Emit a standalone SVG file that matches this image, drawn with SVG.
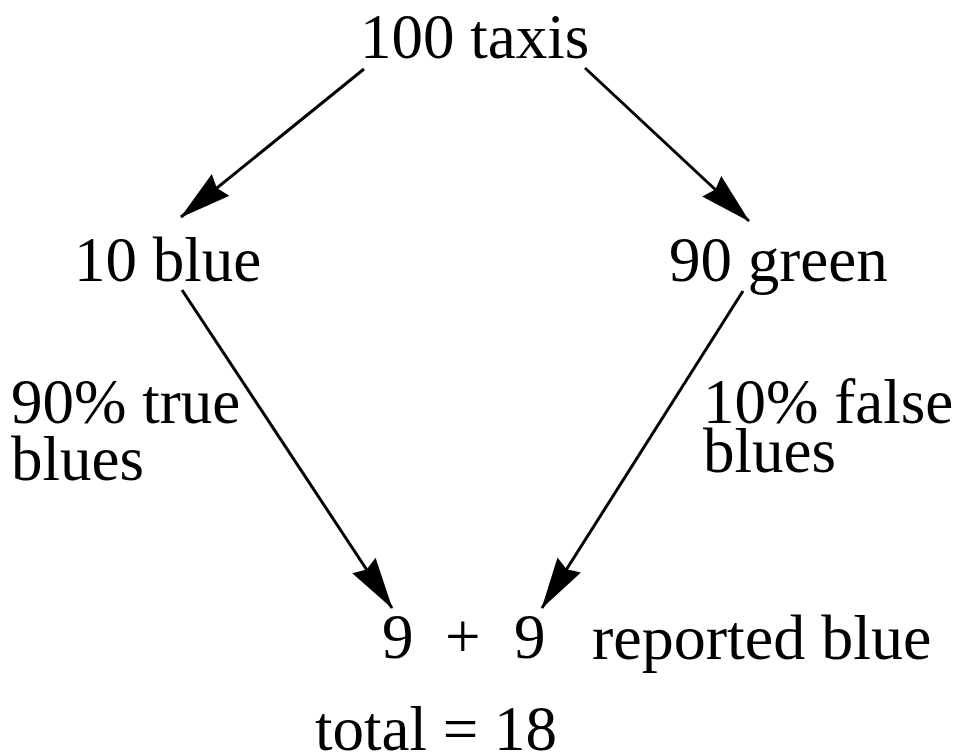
<svg xmlns="http://www.w3.org/2000/svg" width="958" height="754" viewBox="0 0 958 754">
<style>
text{font-family:"Liberation Serif","Times New Roman",serif;font-size:63px;fill:#000}
.c line{stroke:#000;stroke-width:3}
</style>
<defs>
<marker id="ah" markerUnits="userSpaceOnUse" markerWidth="52" markerHeight="28" viewBox="0 0 52 28" refX="51" refY="14" orient="auto">
<path d="M0,0 L52,14 L0,28 L5,14 Z" fill="#000"/>
</marker>
</defs>
<rect width="958" height="754" fill="#fff"/>
<g class="c" id="connectors">
<line x1="364" y1="69" x2="181" y2="217" marker-end="url(#ah)"/>
<line x1="585" y1="68" x2="749" y2="221" marker-end="url(#ah)"/>
<line x1="182" y1="290" x2="392" y2="608" marker-end="url(#ah)"/>
<line x1="743" y1="291" x2="542" y2="608" marker-end="url(#ah)"/>
</g>
<g id="n-taxis"><text x="360" y="58">100 taxis</text></g>
<g id="n-blue"><text x="74" y="281">10 blue</text></g>
<g id="n-green"><text x="669" y="281">90 green</text></g>
<g id="l-true"><text x="11" y="423">90% true</text><text x="11" y="480">blues</text></g>
<g id="l-false"><text x="703" y="423">10% false</text><text x="703" y="472">blues</text></g>
<g id="n-reported"><text x="382" y="658">9</text><text x="445" y="658">+</text><text x="514" y="658">9</text><text x="592" y="659" style="font-size:64px">reported blue</text></g>
<g id="n-total"><text x="315" y="750">total = 18</text></g>
</svg>
